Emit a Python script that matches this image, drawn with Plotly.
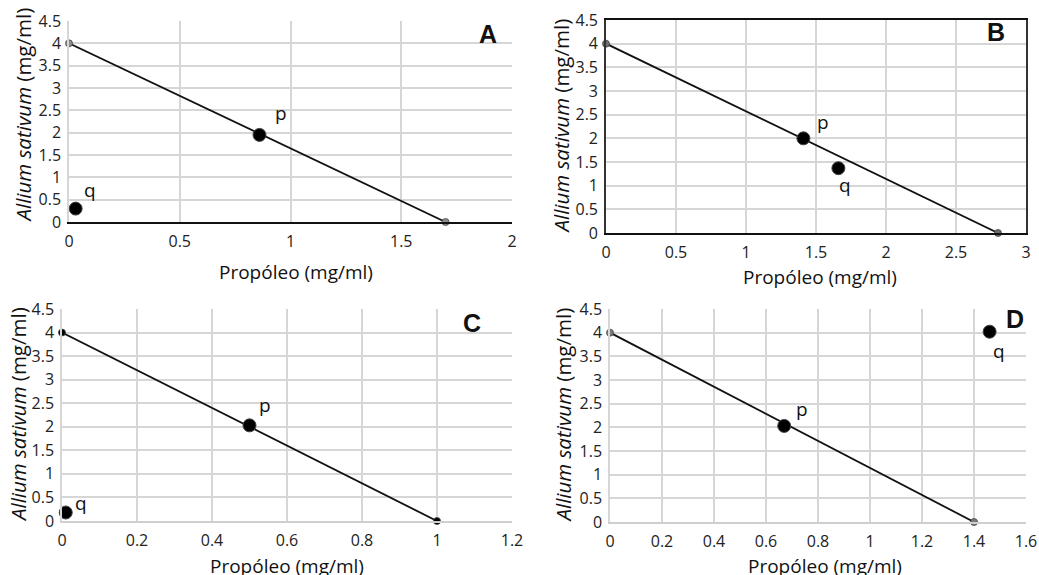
import plotly.graph_objects as go

# ---- data ----
panels = ["A", "B", "C", "D"]
line_x = {"A": [0, 1.7], "B": [0, 2.8], "C": [0, 1.0], "D": [0, 1.4]}
line_y = {"A": [4, 0], "B": [4, 0], "C": [4, 0], "D": [4, 0]}
p_pt = {"A": (0.86, 1.95), "B": (1.41, 2.0), "C": (0.50, 2.03), "D": (0.67, 2.03)}
q_pt = {"A": (0.03, 0.30), "B": (1.66, 1.37), "C": (0.01, 0.18), "D": (1.46, 4.02)}
x_max = {"A": 2.0, "B": 3.0, "C": 1.2, "D": 1.6}
x_dtick = {"A": 0.5, "B": 0.5, "C": 0.2, "D": 0.2}
y_max = 4.5
y_dtick = 0.5

W, H = 1039, 575
# plot area pixel boxes (left, right, top, bottom)
boxes = {"A": (69, 512, 21, 222), "B": (606, 1026, 20, 233),
         "C": (62, 512, 309, 521), "D": (610, 1026, 309, 522)}
end_col = {"A": "#8c8c8c", "B": "#6e6e6e", "C": "#000000", "D": "#7a7a7a"}
p_shift = {"A": (22, 22), "B": (20, 16), "C": (15, 20), "D": (18, 17)}
q_shift = {"A": (14, 19), "B": (7, -17), "C": (15, 10), "D": (9, -19)}
letter_shift = {"A": (-13, 3), "B": (-19, 4), "C": (-29, 2), "D": (0, 6)}
xtitle_shift = {"A": (5, -50), "B": (4, -44), "C": (0, -45), "D": (7, -44)}
ytitle_shift = {"A": (-46, 6), "B": (-45, 0), "C": (-44, 0), "D": (-48, 0)}

FONT = "Open Sans"
fig = go.Figure()
annotations = []
layout = {}
for i, k in enumerate(panels):
    n = "" if i == 0 else str(i + 1)
    xa, ya = "x" + n, "y" + n
    l, r, t, b = boxes[k]
    dark = (k == "B")
    layout["xaxis" + n] = dict(
        domain=[l / W, r / W], range=[0, x_max[k]], dtick=x_dtick[k], tick0=0,
        showgrid=True, gridcolor="#d6d6d6", gridwidth=1.5, zeroline=False,
        showline=True, linecolor="#111111" if k in ("A", "B") else "#cfcfcf",
        linewidth=1.6 if k in ("A", "B") else 1.5, mirror=dark, ticks="",
        tickfont=dict(family=FONT, size=16, color="#222"), anchor=ya,
        ticklabelstandoff=4, automargin=False, fixedrange=True)
    layout["yaxis" + n] = dict(
        domain=[1 - b / H, 1 - t / H], range=[0, y_max], dtick=y_dtick, tick0=0,
        showgrid=True, gridcolor="#d6d6d6", gridwidth=1.5, zeroline=False,
        showline=True, linecolor="#333333" if dark else "#d6d6d6",
        linewidth=1.6 if dark else 1.5, mirror=dark, ticks="",
        tickfont=dict(family=FONT, size=16, color="#222"), anchor=xa,
        ticklabelstandoff=3, automargin=False, fixedrange=True)
    # line
    fig.add_trace(go.Scatter(x=line_x[k], y=line_y[k], mode="lines+markers",
                             line=dict(color="#111", width=1.8),
                             marker=dict(size=7, color=end_col[k],
                                         line=dict(color="#444", width=0.8)),
                             cliponaxis=False,
                             xaxis=xa, yaxis=ya, showlegend=False))
    # p, q points
    fig.add_trace(go.Scatter(x=[p_pt[k][0], q_pt[k][0]], y=[p_pt[k][1], q_pt[k][1]],
                             mode="markers", cliponaxis=False,
                             marker=dict(size=13, color="#000",
                                         line=dict(color="#444", width=1)),
                             xaxis=xa, yaxis=ya, showlegend=False))
    for lab, pt, sh in (("p", p_pt[k], p_shift[k]), ("q", q_pt[k], q_shift[k])):
        annotations.append(dict(x=pt[0], y=pt[1], xref=xa, yref=ya, text=lab,
                                showarrow=False, xshift=sh[0], yshift=sh[1],
                                font=dict(family=FONT, size=19, color="#111")))
    # panel letter
    annotations.append(dict(x=1, y=1, xref=xa + " domain", yref=ya + " domain",
                            text="<b>%s</b>" % k, showarrow=False,
                            xanchor="right", yanchor="top",
                            xshift=letter_shift[k][0], yshift=letter_shift[k][1],
                            font=dict(family="Liberation Sans", size=25, color="#111")))
    # axis titles
    annotations.append(dict(x=0.5, y=0, xref=xa + " domain", yref=ya + " domain",
                            text="Propóleo (mg/ml)", showarrow=False,
                            xanchor="center", yanchor="middle",
                            xshift=xtitle_shift[k][0], yshift=xtitle_shift[k][1],
                            font=dict(family=FONT, size=19, color="#111")))
    annotations.append(dict(x=0, y=0.5, xref=xa + " domain", yref=ya + " domain",
                            text="<i>Allium sativum</i> (mg/ml)", showarrow=False,
                            textangle=-90, xanchor="center", yanchor="middle",
                            xshift=ytitle_shift[k][0], yshift=ytitle_shift[k][1],
                            font=dict(family=FONT, size=20.5, color="#111")))

fig.update_layout(width=W, height=H,
                  margin=dict(l=0, r=0, t=0, b=0, pad=0, autoexpand=False),
                  paper_bgcolor="white", plot_bgcolor="white",
                  annotations=annotations, **layout)
fig.write_html("out.html", config={"displayModeBar": False},
               post_script="document.body.style.margin='0px';"
                           "document.body.style.overflow='hidden';")
